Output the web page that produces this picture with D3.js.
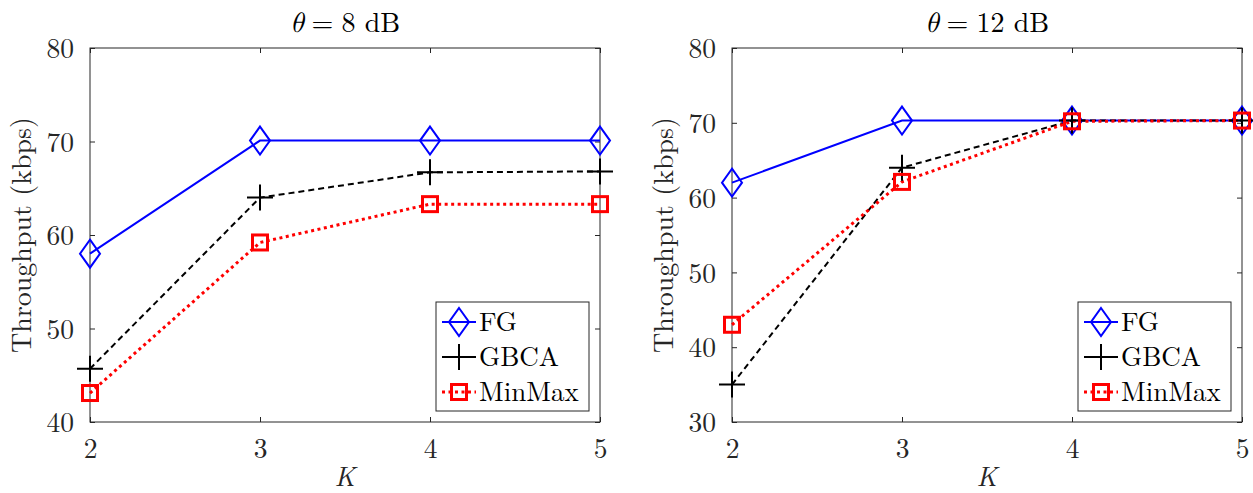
<!DOCTYPE html>
<html>
<head>
<meta charset="utf-8">
<script src="https://cdn.jsdelivr.net/npm/d3@7"></script>
<style>
  body { margin: 0; background: #fff; }
</style>
</head>
<body>
<div id="chart"></div>
<script>
const FONT = '"Latin Modern Roman", "Liberation Serif", serif'

const K = [2, 3, 4, 5]
const seriesNames = ["FG", "GBCA", "MinMax"]

// theta = 8 dB
const fg8 = [58.0, 70.1, 70.1, 70.1]
const gbca8 = [45.7, 64.0, 66.7, 66.8]
const minmax8 = [43.1, 59.2, 63.3, 63.3]

// theta = 12 dB
const fg12 = [62.0, 70.3, 70.3, 70.3]
const gbca12 = [35.0, 64.0, 70.3, 70.3]
const minmax12 = [43.0, 62.1, 70.2, 70.3]

const yTicks8 = [40, 50, 60, 70, 80]
const yTicks12 = [30, 40, 50, 60, 70, 80]

const styles = {
  FG: { color: "#0000ff", dash: null, width: 2, marker: "diamond" },
  GBCA: { color: "#000000", dash: "6,4", width: 2, marker: "plus" },
  MinMax: { color: "#ff0000", dash: "3,3.5", width: 3, marker: "square" }
}

const svg = d3.select("#chart").append("svg")
  .attr("width", 1253)
  .attr("height", 493)

function marker(g, type, x, y, color) {
  if (type === "diamond") {
    g.append("path")
      .attr("d", `M${x},${y - 14}L${x + 10},${y}L${x},${y + 14}L${x - 10},${y}Z`)
      .attr("fill", "none").attr("stroke", color).attr("stroke-width", 2)
  } else if (type === "plus") {
    g.append("path")
      .attr("d", `M${x - 13},${y}H${x + 13}M${x},${y - 13}V${y + 13}`)
      .attr("fill", "none").attr("stroke", color).attr("stroke-width", 2)
  } else {
    g.append("rect")
      .attr("x", x - 7.5).attr("y", y - 7.5).attr("width", 15).attr("height", 15)
      .attr("fill", "none").attr("stroke", color).attr("stroke-width", 3)
  }
}

function panel(opts) {
  const { left, right, top, bottom, yDomain, yTicks, title, data } = opts
  const g = svg.append("g").attr("font-family", FONT)

  const x = d3.scaleLinear().domain([2, 5]).range([left, right])
  const y = d3.scaleLinear().domain(yDomain).range([bottom, top])

  // box
  g.append("rect")
    .attr("x", left).attr("y", top)
    .attr("width", right - left).attr("height", bottom - top)
    .attr("fill", "none").attr("stroke", "#262626").attr("stroke-width", 1)

  // axes with inward ticks, mirrored on top and right
  const axB = g.append("g").attr("transform", `translate(0,${bottom})`)
    .call(d3.axisBottom(x).tickValues(K).tickSize(-5).tickPadding(16).tickFormat(d3.format("d")))
  const axT = g.append("g").attr("transform", `translate(0,${top})`)
    .call(d3.axisTop(x).tickValues(K).tickSize(-5).tickFormat(""))
  const axL = g.append("g").attr("transform", `translate(${left},0)`)
    .call(d3.axisLeft(y).tickValues(yTicks).tickSize(-5).tickPadding(16).tickFormat(d3.format("d")))
  const axR = g.append("g").attr("transform", `translate(${right},0)`)
    .call(d3.axisRight(y).tickValues(yTicks).tickSize(-5).tickFormat(""))
  ;[axB, axT, axL, axR].forEach(a => {
    a.attr("font-family", FONT).attr("font-size", 27.5)
    a.select(".domain").remove()
    a.selectAll("line").attr("stroke", "#262626")
    a.selectAll("text").attr("fill", "#262626")
  })
  axB.selectAll("text").attr("dy", "0.71em")
  axL.selectAll("text").attr("dy", "0.35em")

  // title
  const tt = g.append("text")
    .attr("x", (left + right) / 2).attr("y", 32)
    .attr("text-anchor", "middle").attr("font-size", 28).attr("fill", "#000")
  tt.append("tspan").attr("font-style", "italic")
    .attr("font-family", '"Latin Modern Math", "Latin Modern Roman", serif').text("θ")
  tt.append("tspan").attr("dx", 8).text("=")
  tt.append("tspan").attr("dx", 8).text(title + " dB")

  // axis labels
  g.append("text")
    .attr("transform", `translate(${left - 59},${(top + bottom) / 2}) rotate(-90)`)
    .attr("text-anchor", "middle").attr("font-size", 28).attr("fill", "#262626")
    .text("Throughput (kbps)")
  g.append("text")
    .attr("x", (left + right) / 2).attr("y", 486)
    .attr("text-anchor", "middle").attr("font-size", 27).attr("font-style", "italic")
    .attr("fill", "#262626")
    .text("K")

  const line = d3.line().x((d, i) => x(K[i])).y(d => y(d))

  seriesNames.forEach((name, si) => {
    const s = styles[name]
    g.append("path")
      .datum(data[si])
      .attr("d", line)
      .attr("fill", "none")
      .attr("stroke", s.color)
      .attr("stroke-width", s.width)
      .attr("stroke-dasharray", s.dash)
  })
  seriesNames.forEach((name, si) => {
    const s = styles[name]
    data[si].forEach((v, i) => marker(g, s.marker, x(K[i]), y(v), s.color))
  })

  // legend
  const lx = right - 164, ly = 302, lw = 153, lh = 109
  g.append("rect")
    .attr("x", lx).attr("y", ly).attr("width", lw).attr("height", lh)
    .attr("fill", "#fff").attr("stroke", "#262626").attr("stroke-width", 1)
  seriesNames.forEach((name, i) => {
    const s = styles[name]
    const cy = ly + 20 + i * 35
    g.append("line")
      .attr("x1", lx + 6).attr("x2", lx + 40).attr("y1", cy).attr("y2", cy)
      .attr("stroke", s.color).attr("stroke-width", s.width)
      .attr("stroke-dasharray", s.dash)
    marker(g, s.marker, lx + 23, cy, s.color)
    g.append("text")
      .attr("x", lx + 43).attr("y", cy).attr("dy", "0.35em")
      .attr("font-size", 27).attr("fill", "#000")
      .text(name)
  })
}

panel({
  left: 90, right: 600, top: 48, bottom: 422,
  yDomain: [40, 80], yTicks: yTicks8, title: "8",
  data: [fg8, gbca8, minmax8]
})
panel({
  left: 732, right: 1242, top: 48, bottom: 422,
  yDomain: [30, 80], yTicks: yTicks12, title: "12",
  data: [fg12, gbca12, minmax12]
})
</script>
</body>
</html>
